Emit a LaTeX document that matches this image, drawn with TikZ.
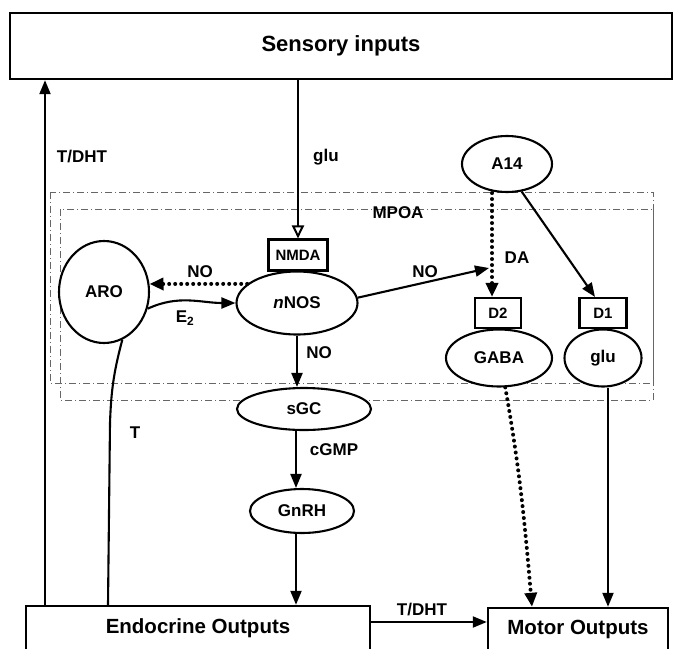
\documentclass[tikz,border=0pt]{standalone}
\usepackage{fontspec}
\setmainfont{Liberation Sans}
\usetikzlibrary{arrows.meta,shapes.geometric}
\begin{document}
\begin{tikzpicture}[x=1pt,y=1pt,
  every node/.style={font=\bfseries\fontsize{17}{20}\selectfont, inner sep=0pt},
  ell/.style={ellipse, draw, line width=2.1pt, fill=white},
  rec/.style={rectangle, draw, line width=2.1pt, fill=white},
  bigbox/.style={rectangle, draw, line width=2.4pt, fill=white, font=\bfseries\fontsize{20.5}{24}\selectfont},
  recep/.style={rec, minimum height=30pt, font=\bfseries\fontsize{15}{18}\selectfont},
  arr/.style={line width=2.1pt, -{Triangle[length=14pt,width=11pt]}},
  openarr/.style={line width=2pt, -{Triangle[open,length=13pt,width=12pt]}},
  dotarr/.style={line width=4pt, line cap=round, dash pattern=on 0pt off 6pt, -{Triangle[length=14pt,width=12pt]}},
  plain/.style={line width=2.1pt},
  region/.style={line width=0.7pt, draw=black!60, dash pattern=on 7pt off 3pt on 1pt off 3pt}
]
\useasboundingbox (0,0) rectangle (680,-648);
\clip (0,0) rectangle (680,-648);

% MPOA regions
\draw[region] (50,-192) rectangle (653,-383);
\draw[region] (60,-209) rectangle (653,-400);

% boxes
\node[bigbox, minimum width=662pt, minimum height=66pt, font=\bfseries\fontsize{22}{26}\selectfont] (sens) at (341,-46) {Sensory inputs};
\node[bigbox, minimum width=344pt, minimum height=44pt] (endo) at (198,-628) {Endocrine Outputs};
\node[bigbox, minimum width=180pt, minimum height=42pt] (motor) at (578,-629) {Motor Outputs};

% ellipses
\node[ell, minimum width=90pt, minimum height=56pt] (A14) at (507,-164) {A14};
\node[ell, minimum width=90pt, minimum height=102pt] (ARO) at (104,-292) {ARO};
\node[ell, minimum width=121pt, minimum height=63pt] (nNOS) at (297,-303) {\textit{n}NOS};
\node[ell, minimum width=134pt, minimum height=42pt] (sGC) at (304,-409) {sGC};
\node[ell, minimum width=104pt, minimum height=44pt] (GnRH) at (302,-511) {GnRH};
\node[ell, minimum width=106pt, minimum height=57pt] (GABA) at (499,-358) {GABA};
\node[ell, minimum width=77pt, minimum height=57pt] (gluR) at (603,-358) {glu};

% receptors
\node[recep, minimum width=59pt, minimum height=31pt] (NMDA) at (298,-255) {NMDA};
\node[recep, minimum width=46pt] (D2) at (498,-313) {D2};
\node[recep, minimum width=47pt] (D1) at (603,-313) {D1};

% helper coordinates
\coordinate (lx) at (45,0);
\coordinate (cx) at (296,0);
\coordinate (dx) at (492,0);
\coordinate (mx) at (608,0);
\coordinate (tT) at (110,-423);
\coordinate (tb) at (108,0);
\coordinate (ty) at (0,-622);
\coordinate (noend) at (489,-268);
\coordinate (gx) at (532,0);
\coordinate (d1x) at (595,0);

% connectors
\draw[arr] (endo.north -| lx) -- (sens.south -| lx);
\draw[openarr] (sens.south -| NMDA) -- (NMDA.north);
\draw[dotarr] (nNOS.159) -- (ARO.10);
\draw[arr] (ARO.-21) to[out=25,in=180] (nNOS.west);
\draw[arr] (nNOS.south) -- (sGC.north -| nNOS.south);
\draw[arr] (sGC.south -| cx) -- (GnRH.north -| cx);
\draw[arr] (GnRH.south -| cx) -- (endo.north -| cx);
\draw[plain] (endo.north -| tb) -- (tT) to[out=88,in=-105] (ARO.-69);
\draw[dotarr] (A14.south -| dx) -- (D2.north -| dx);
\draw[arr] (A14.-62) -- (D1.north -| d1x);
\draw[arr] (nNOS.5) -- (noend);
\draw[dotarr] (GABA.-78) to[out=-80,in=95] (motor.north -| gx);
\draw[arr] (gluR.south -| mx) -- (motor.north -| mx);
\draw[arr] (endo.east |- ty) -- (motor.west |- ty);

% labels
\node (lTDHT) at (82,-157) {T/DHT};
\node[anchor=west] (lglu) at (313,-157) {glu};
\node (lMPOA) at (398,-213) {MPOA};
\node (lNO1) at (200,-272) {NO};
\node (lE2) at (185,-318) {E\textsubscript{2}};
\node (lNO2) at (425,-272) {NO};
\node (lDA) at (517,-258) {DA};
\node (lNO3) at (319,-353) {NO};
\node (lT) at (135,-433) {T};
\node (lcGMP) at (334,-450) {cGMP};
\node (lTDHT2) at (422,-610) {T/DHT};
\end{tikzpicture}
\end{document}
